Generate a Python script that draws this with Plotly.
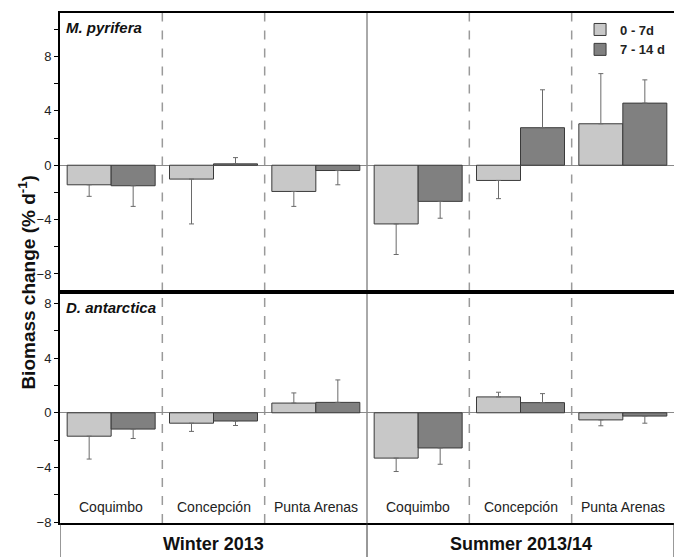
import plotly.graph_objects as go
from plotly.subplots import make_subplots

sites = ["Coquimbo", "Concepción", "Punta Arenas", "Coquimbo", "Concepción", "Punta Arenas"]
seasons = ["Winter 2013", "Summer 2013/14"]
series_names = ["0 - 7d", "7 - 14 d"]
species = ["M. pyrifera", "D. antarctica"]

# M. pyrifera
mp_07 = [-1.44, -1.02, -1.93, -4.32, -1.12, 3.05]
mp_07_err = [0.85, 3.30, 1.10, 2.25, 1.34, 3.69]
mp_714 = [-1.51, 0.10, -0.39, -2.66, 2.76, 4.57]
mp_714_err = [1.52, 0.46, 1.05, 1.24, 2.79, 1.71]

# D. antarctica
da_07 = [-1.71, -0.76, 0.71, -3.31, 1.16, -0.52]
da_07_err = [1.67, 0.60, 0.74, 0.98, 0.34, 0.43]
da_714 = [-1.19, -0.60, 0.76, -2.57, 0.74, -0.24]
da_714_err = [0.69, 0.33, 1.64, 1.19, 0.66, 0.52]

colors = ["#c8c8c8", "#808080"]
xs = list(range(len(sites)))

fig = make_subplots(rows=2, cols=1, shared_xaxes=True, vertical_spacing=0,
                    row_heights=[0.5463, 0.4537])

def err(vals, e):
    plus = [x if v >= 0 else 0 for v, x in zip(vals, e)]
    minus = [x if v < 0 else 0 for v, x in zip(vals, e)]
    return dict(type="data", symmetric=False, array=plus, arrayminus=minus,
                color="#6a6a6a", thickness=1, width=2.5)

panels = [(mp_07, mp_07_err, mp_714, mp_714_err), (da_07, da_07_err, da_714, da_714_err)]
for r, (a, ae, b, be) in enumerate(panels, start=1):
    for i, (vals, e) in enumerate([(a, ae), (b, be)]):
        fig.add_trace(go.Bar(x=xs, y=vals, name=series_names[i],
                             marker=dict(color=colors[i], line=dict(color="#3a3a3a", width=1)),
                             error_y=err(vals, e), showlegend=(r == 1),
                             offsetgroup=str(i)), row=r, col=1)

# page body has an 8px margin: figure is sized/offset to compensate
fig.update_layout(
    width=674, height=549,
    margin=dict(l=52, r=8, t=3, b=34),
    paper_bgcolor="white", plot_bgcolor="white",
    barmode="group", bargap=0.14, bargroupgap=0,
    font=dict(family="Arial, Liberation Sans", size=13, color="#222"),
    legend=dict(x=0.847, y=0.997, xanchor="left", yanchor="top",
                font=dict(size=13, color="#222", weight="bold"),
                bgcolor="rgba(0,0,0,0)", itemwidth=30, tracegroupgap=2),
)

axis_common = dict(showline=True, linecolor="black", linewidth=2, mirror=True,
                   showgrid=False)
fig.update_xaxes(**axis_common, range=[-0.5, 5.5], showticklabels=False, ticks="")
fig.update_yaxes(**axis_common, tickvals=[-8, -4, 0, 4, 8], ticks="outside", ticklen=4,
                 tickcolor="black", tickwidth=1,
                 minor=dict(dtick=2, ticks="outside", ticklen=4, tickcolor="black"),
                 zeroline=True, zerolinecolor="#8a8a8a", zerolinewidth=1,
                 tickfont=dict(size=13, color="#222"))
fig.update_yaxes(range=[-9.3, 11.2], row=1, col=1)
fig.update_yaxes(range=[-8.05, 8.85], row=2, col=1)

shapes = []
for yr in ["y domain", "y2 domain"]:
    xr = "x" if yr == "y domain" else "x2"
    for xb in [0.5, 1.5, 3.5, 4.5]:
        shapes.append(dict(type="line", xref=xr, yref=yr, x0=xb, x1=xb, y0=0, y1=1,
                           line=dict(color="#9a9a9a", width=1.5, dash="dash"), layer="below"))
    shapes.append(dict(type="line", xref=xr, yref=yr, x0=2.5, x1=2.5, y0=0, y1=1,
                       line=dict(color="#555", width=1), layer="below"))
for xb in [-0.5, 2.5, 5.5]:
    shapes.append(dict(type="line", xref="x2", yref="paper", x0=xb, x1=xb, y0=-0.07, y1=0,
                       line=dict(color="#333", width=1)))
fig.update_layout(shapes=shapes)

ann = []
for i, s in enumerate(sites):
    ann.append(dict(x=i, y=-6.9, xref="x2", yref="y2", text=s, showarrow=False,
                    font=dict(size=14, color="#222")))
for j, s in enumerate(seasons):
    ann.append(dict(x=1 + 3 * j, y=-0.041, xref="x2", yref="paper", text="<b>%s</b>" % s,
                    showarrow=False, yanchor="middle", font=dict(size=18, color="#111")))
ann.append(dict(x=0.006, y=0.992, xref="paper", yref="paper", text="<b><i>M. pyrifera</i></b>",
                showarrow=False, xanchor="left", yanchor="top", font=dict(size=15, color="#111")))
ann.append(dict(x=0.006, y=0.443, xref="paper", yref="paper", text="<b><i>D. antarctica</i></b>",
                showarrow=False, xanchor="left", yanchor="top", font=dict(size=15, color="#111")))
ann.append(dict(x=-0.054, y=0.473, xref="paper", yref="paper",
                text="<b>Biomass change (% d<sup>-1</sup>)</b>", textangle=-90,
                xanchor="center", yanchor="middle",
                showarrow=False, font=dict(size=19, color="#111")))
fig.update_layout(annotations=ann)

fig.write_html("out.html")
